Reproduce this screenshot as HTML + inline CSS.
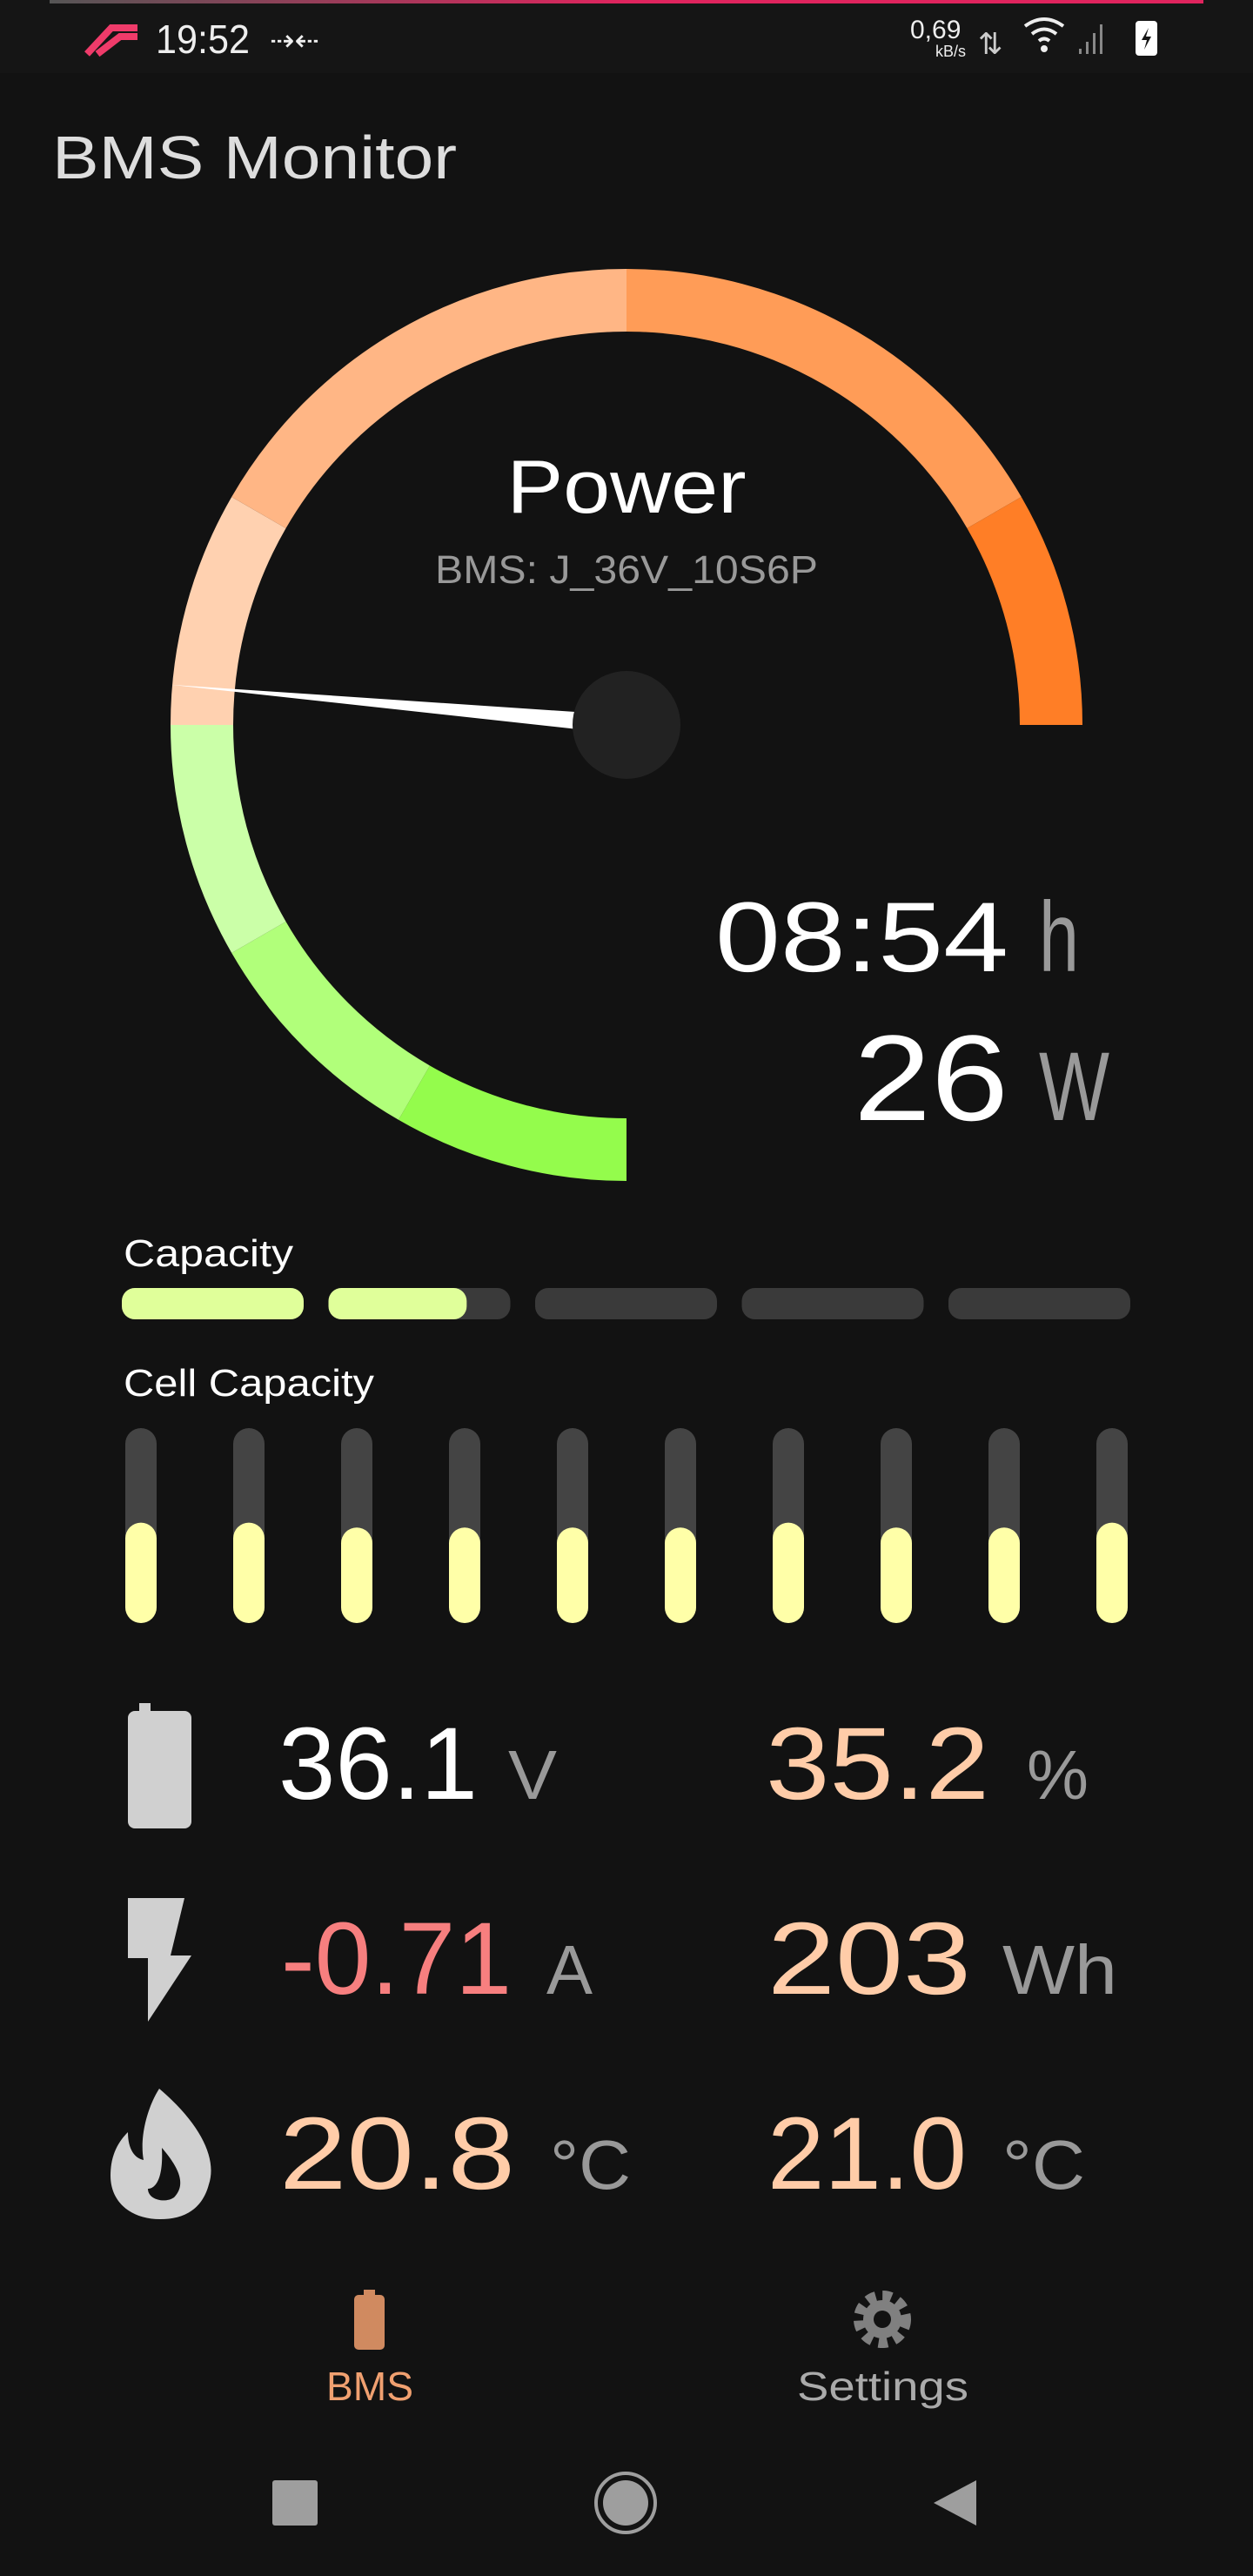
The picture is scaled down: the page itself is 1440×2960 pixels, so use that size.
<!DOCTYPE html>
<html><head><meta charset="utf-8"><style>
html,body{margin:0;padding:0;background:#121212;}
svg{display:block;font-family:"Liberation Sans",sans-serif;}
</style></head><body>
<svg id="root" width="1440" height="2960" viewBox="0 0 1440 2960">
<defs><linearGradient id="topline" x1="0" x2="1"><stop offset="0" stop-color="#555"/><stop offset="0.5" stop-color="#e0245e"/><stop offset="1" stop-color="#e0245e"/></linearGradient></defs>
<rect x="0" y="0" width="1440" height="2960" fill="#121212"/>
<g>
<rect x="0" y="0" width="1440" height="84" fill="#151515"/>
<rect x="57" y="0" width="1326" height="4" fill="url(#topline)"/>
<path d="M100 62 L128 32 L158 32 M112 62 L138 42 L158 42" stroke="#ef3b6a" stroke-width="8" fill="none"/>
<text x="179" y="61" font-size="46" fill="#eee" textLength="108" lengthAdjust="spacingAndGlyphs">19:52</text>
<text x="310" y="58" font-size="34" fill="#eee">⇢⇠</text>
<text x="1046" y="44" font-size="30" fill="#eee">0,69</text>
<text x="1075" y="65" font-size="18" fill="#eee">kB/s</text>
<text x="1124" y="62" font-size="34" fill="#ccc">⇅</text>
<path d="M1178 30 Q1200 14 1222 30 M1186 39 Q1200 28 1214 39 M1194 47 Q1200 42 1206 47" stroke="#eee" stroke-width="4" fill="none"/>
<circle cx="1200" cy="56" r="4" fill="#eee"/>
<g fill="#888"><rect x="1240" y="56" width="3" height="6"/><rect x="1248" y="48" width="3" height="14"/><rect x="1256" y="38" width="3" height="24"/><rect x="1264" y="28" width="3" height="34"/></g>
<rect x="1305" y="24" width="25" height="40" rx="4" fill="#fff"/>
<path d="M1320 32 L1312 46 L1318 46 L1315 57 L1323 42 L1317 42 Z" fill="#151515"/>
</g>
<text x="60" y="205" font-size="70" fill="#ddd" textLength="465" lengthAdjust="spacingAndGlyphs">BMS Monitor</text>

<g id="gauge"></g>
<text x="720" y="589" text-anchor="middle" font-size="86" fill="#fff" textLength="275" lengthAdjust="spacingAndGlyphs">Power</text>
<text x="720" y="670" text-anchor="middle" font-size="45" fill="#999" textLength="440" lengthAdjust="spacingAndGlyphs">BMS: J_36V_10S6P</text>
<text x="822" y="1116" font-size="114" fill="#fff" textLength="337" lengthAdjust="spacingAndGlyphs">08:54</text>
<text x="1194" y="1116" font-size="114" fill="#999" textLength="46" lengthAdjust="spacingAndGlyphs">h</text>
<text x="981" y="1287" font-size="140" fill="#fff" textLength="178" lengthAdjust="spacingAndGlyphs">26</text>
<text x="1194" y="1287" font-size="112" fill="#999" textLength="81" lengthAdjust="spacingAndGlyphs">W</text>

<text x="142" y="1455" font-size="44" fill="#fff" textLength="195" lengthAdjust="spacingAndGlyphs">Capacity</text>
<g id="capbars"></g>
<text x="142" y="1604" font-size="44" fill="#fff" textLength="288" lengthAdjust="spacingAndGlyphs">Cell Capacity</text>
<g id="cellbars"></g>

<g>
<rect x="160" y="1957" width="13" height="12" fill="#d0d0d0"/>
<rect x="147" y="1966" width="73" height="135" rx="8" fill="#d0d0d0"/>
<text x="320" y="2067" font-size="118" fill="#fff" textLength="229" lengthAdjust="spacingAndGlyphs">36.1</text>
<text x="584" y="2067" font-size="80" fill="#999" textLength="56" lengthAdjust="spacingAndGlyphs">V</text>
<text x="880" y="2067" font-size="118" fill="#ffcca8" textLength="257" lengthAdjust="spacingAndGlyphs">35.2</text>
<text x="1180" y="2067" font-size="80" fill="#999" textLength="71" lengthAdjust="spacingAndGlyphs">%</text>
</g>
<g>
<path d="M147 2181 L212 2181 L196 2247 L220 2247 L170 2323 L170 2250 L147 2250 Z" fill="#d0d0d0"/>
<text x="323" y="2291" font-size="118" fill="#f77f7f" textLength="265" lengthAdjust="spacingAndGlyphs">-0.71</text>
<text x="628" y="2291" font-size="80" fill="#999" textLength="53" lengthAdjust="spacingAndGlyphs">A</text>
<text x="882" y="2291" font-size="118" fill="#ffcca8" textLength="234" lengthAdjust="spacingAndGlyphs">203</text>
<text x="1152" y="2291" font-size="80" fill="#999" textLength="132" lengthAdjust="spacingAndGlyphs">Wh</text>
</g>
<g>
<path d="M183 2400 C230 2440 250 2480 240 2510 C232 2540 210 2550 184 2550 C150 2550 127 2530 127 2500 C127 2475 137 2460 147 2450 C147 2470 155 2480 165 2482 C160 2455 170 2420 183 2400 Z" fill="#d0d0d0"/>
<path d="M186 2468 C205 2490 215 2510 200 2525 C190 2532 170 2528 170 2515 C178 2515 188 2505 186 2468 Z" fill="#121212"/>
<text x="321" y="2515" font-size="118" fill="#ffcca8" textLength="271" lengthAdjust="spacingAndGlyphs">20.8</text>
<text x="632" y="2515" font-size="80" fill="#999" textLength="93" lengthAdjust="spacingAndGlyphs">°C</text>
<text x="882" y="2515" font-size="118" fill="#ffcca8" textLength="229" lengthAdjust="spacingAndGlyphs">21.0</text>
<text x="1152" y="2515" font-size="80" fill="#999" textLength="95" lengthAdjust="spacingAndGlyphs">°C</text>
</g>

<g>
<rect x="418" y="2631" width="13" height="8" fill="#d08a60"/>
<rect x="407" y="2637" width="35" height="63" rx="5" fill="#d08a60"/>
<text x="375" y="2758" font-size="46" fill="#f0a070" textLength="100" lengthAdjust="spacingAndGlyphs">BMS</text>
</g>
<g>
<circle cx="1014" cy="2665" r="26" fill="none" stroke="#808080" stroke-width="14" stroke-dasharray="10 7.5"/>
<circle cx="1014" cy="2665" r="22" fill="#808080"/>
<circle cx="1014" cy="2665" r="10" fill="#121212"/>
<text x="916" y="2758" font-size="46" fill="#aaa" textLength="197" lengthAdjust="spacingAndGlyphs">Settings</text>
</g>
<rect x="313" y="2850" width="52" height="52" rx="3" fill="#9e9e9e"/>
<circle cx="719" cy="2876" r="34" fill="none" stroke="#9e9e9e" stroke-width="4"/>
<circle cx="719" cy="2876" r="26" fill="#9e9e9e"/>
<path d="M1122 2850 L1122 2902 L1073 2876 Z" fill="#9e9e9e"/>
</svg>
<script>
const NS = "http://www.w3.org/2000/svg";
const gaugeSegStart = [0, 30, 60, 90, 120, 180, 240];
const gaugeSegEnd = [30, 60, 90, 120, 180, 240, 270];
const gaugeSegColors = ["#94fc4c", "#b1ff7a", "#cbffa8", "#ffd1b0", "#ffb685", "#ff9c57", "#ff7e26"];
const socPercent = [35.2];
const capacityBlocks = [1, 2, 3, 4, 5];
const cellValues = [0.515, 0.515, 0.49, 0.49, 0.49, 0.49, 0.515, 0.49, 0.49, 0.515];

const cx = 720, cy = 833, R = 488;
function pt(deg, r) { const a = deg * Math.PI / 180; return [cx - r * Math.sin(a), cy + r * Math.cos(a)]; }
function angleScale(frac) { return frac * 270; }
const g = document.getElementById('gauge');
gaugeSegStart.forEach((s, i) => {
  const e = gaugeSegEnd[i];
  const p1 = pt(s, R), p2 = pt(e, R);
  const p = document.createElementNS(NS, 'path');
  p.setAttribute('d', `M${p1[0]} ${p1[1]} A${R} ${R} 0 ${e - s > 180 ? 1 : 0} 1 ${p2[0]} ${p2[1]}`);
  p.setAttribute('stroke', gaugeSegColors[i]);
  p.setAttribute('stroke-width', 72);
  p.setAttribute('fill', 'none');
  
  
  g.appendChild(p);
});
const na = angleScale(socPercent[0] / 100);
const tip = pt(na, 525);
const rad = na * Math.PI / 180;
const px = Math.cos(rad), py = Math.sin(rad);
const needle = document.createElementNS(NS, 'polygon');
needle.setAttribute('points', `${tip[0]},${tip[1]} ${cx + px * 11},${cy + py * 11} ${cx - px * 11},${cy - py * 11}`);
needle.setAttribute('fill', '#fff');


g.appendChild(needle);
const hub = document.createElementNS(NS, 'circle');
hub.setAttribute('cx', cx); hub.setAttribute('cy', cy); hub.setAttribute('r', 62);
hub.setAttribute('fill', '#222');


g.appendChild(hub);

const cb = document.getElementById('capbars');
const blockW = 209, blockStep = 237.5, blockX0 = 140, blockY = 1480, blockH = 36;
capacityBlocks.forEach((b, i) => {
  const x = blockX0 + i * blockStep;
  const t = document.createElementNS(NS, 'rect');
  t.setAttribute('x', x); t.setAttribute('y', blockY); t.setAttribute('width', blockW); t.setAttribute('height', blockH);
  t.setAttribute('rx', 15); t.setAttribute('fill', '#3a3a3a');
  
  
  cb.appendChild(t);
  const frac = Math.max(0, Math.min(1, (socPercent[0] - (b - 1) * 20) / 20));
  if (frac > 0) {
    const f = document.createElementNS(NS, 'rect');
    f.setAttribute('x', x); f.setAttribute('y', blockY); f.setAttribute('width', blockW * frac); f.setAttribute('height', blockH);
    f.setAttribute('rx', 15); f.setAttribute('fill', '#e0ff9a');
    
    
    cb.appendChild(f);
  }
});

const cl = document.getElementById('cellbars');
const cellX0 = 144, cellStep = 124, cellW = 36, cellTop = 1641, cellBot = 1865;
cellValues.forEach((v, i) => {
  const x = cellX0 + i * cellStep;
  const t = document.createElementNS(NS, 'rect');
  t.setAttribute('x', x); t.setAttribute('y', cellTop); t.setAttribute('width', cellW); t.setAttribute('height', cellBot - cellTop);
  t.setAttribute('rx', 18); t.setAttribute('fill', '#444');
  
  
  cl.appendChild(t);
  const h = (cellBot - cellTop) * v;
  const f = document.createElementNS(NS, 'rect');
  f.setAttribute('x', x); f.setAttribute('y', cellBot - h); f.setAttribute('width', cellW); f.setAttribute('height', h);
  f.setAttribute('rx', 18); f.setAttribute('fill', '#ffffa8');
  
  
  cl.appendChild(f);
});
</script>
</body></html>
